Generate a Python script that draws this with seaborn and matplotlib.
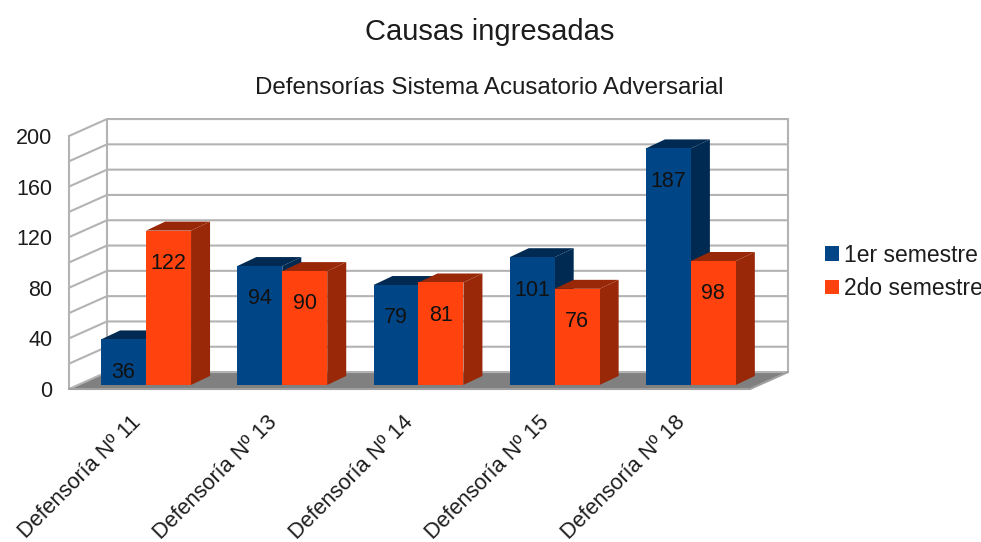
import pandas as pd
import matplotlib.pyplot as plt
from matplotlib.patches import Polygon
from matplotlib.transforms import ScaledTranslation
import seaborn as sns

# Values
categories = ['Defensoría Nº 11', 'Defensoría Nº 13', 'Defensoría Nº 14', 'Defensoría Nº 15', 'Defensoría Nº 18']
first_semester = [36, 94, 79, 101, 187]
second_semester = [122, 90, 81, 76, 98]
series_names = ['1er semestre', '2do semestre']
y_labels = [0, 40, 80, 120, 160, 200]
grid_values = [0, 20, 40, 60, 80, 100, 120, 140, 160, 180, 200]

front_colors = {'1er semestre': '#004586', '2do semestre': '#ff420e'}
side_colors = {'#004586': '#002a52', '#ff420e': '#992808'}
grid_color = '#b3b3b3'
text_color = '#1c1c1c'

# Fake 3D depth in data units
wall_dx, wall_dy = 0.279, 13.4
bar_shift_x, bar_shift_y = 0.066, 3.2
bar_dx, bar_dy = 0.1395, 7.1

sns.set_theme(style='white')
plt.rcParams['font.family'] = ['Liberation Sans', 'DejaVu Sans']

data = pd.DataFrame({
    'category': categories * 2,
    'series': [series_names[0]] * 5 + [series_names[1]] * 5,
    'value': first_semester + second_semester,
})

fig = plt.figure(figsize=(9.81, 5.42), dpi=100)
ax = fig.add_axes([69 / 981, (542 - 389) / 542, 681 / 981, 253 / 542])

sns.barplot(data=data, x='category', y='value', hue='series', palette=front_colors,
            width=0.66, gap=0, saturation=1, linewidth=0, ax=ax)

ax.set_xlim(-0.5, 4.5)
ax.set_ylim(0, 200)
ax.set_xlabel('')
ax.set_ylabel('')
sns.despine(ax=ax, left=True, bottom=True)
ax.patch.set_visible(False)

# Walls and floor
x0, x1 = -0.5, 4.5
floor = Polygon([(x0, 0), (x0 + wall_dx, wall_dy), (x1 + wall_dx, wall_dy), (x1, 0)],
                facecolor='#808080', edgecolor='none', clip_on=False, zorder=1)
ax.add_patch(floor)
for v in grid_values:
    ax.plot([x0, x0 + wall_dx, x1 + wall_dx], [v, v + wall_dy, v + wall_dy],
            color=grid_color, lw=1.5, clip_on=False, zorder=1.5, solid_joinstyle='miter')
ax.plot([x0, x0], [0, 200], color=grid_color, lw=1.5, clip_on=False, zorder=1.6)
ax.plot([x0 + wall_dx] * 2, [wall_dy, 200 + wall_dy], color=grid_color, lw=1.5, clip_on=False, zorder=1.6)
ax.plot([x1 + wall_dx] * 2, [wall_dy, 200 + wall_dy], color=grid_color, lw=1.5, clip_on=False, zorder=1.6)
ax.plot([x0, x1, x1 + wall_dx], [0, 0, wall_dy], color='#a0a0a0', lw=1.5, clip_on=False, zorder=1.7)

# Move the bars onto the floor and add top and side faces
bars = [b for c in ax.containers for b in c]
bars.sort(key=lambda b: b.get_x())
for i, bar in enumerate(bars):
    x = bar.get_x() + bar_shift_x
    w = bar.get_width()
    h = bar.get_height()
    y = bar_shift_y
    bar.set_x(x)
    bar.set_y(y)
    bar.set_clip_on(False)
    bar.set_zorder(3 + i + 0.5)
    hex_color = '#%02x%02x%02x' % tuple(int(round(c * 255)) for c in bar.get_facecolor()[:3])
    dark = side_colors[hex_color]
    side = Polygon([(x + w, y), (x + w + bar_dx, y + bar_dy), (x + w + bar_dx, y + h + bar_dy), (x + w, y + h)],
                   facecolor=dark, edgecolor='none', clip_on=False, zorder=3 + i)
    top = Polygon([(x, y + h), (x + bar_dx, y + h + bar_dy), (x + w + bar_dx, y + h + bar_dy), (x + w, y + h)],
                  facecolor=dark, edgecolor='none', clip_on=False, zorder=3 + i)
    ax.add_patch(side)
    ax.add_patch(top)
    ax.text(x + w / 2, y + h - 26, f'{h:.0f}', ha='center', va='center', fontsize=15.5,
            color='#111111', zorder=30)

ax.set_yticks(y_labels)
ax.set_yticklabels([str(v) for v in y_labels], fontsize=15.5, color=text_color)
ax.tick_params(axis='y', length=0, pad=12)
ax.tick_params(axis='x', length=0, pad=16.6)
plt.setp(ax.get_xticklabels(), rotation=45, ha='right', va='top', rotation_mode='anchor',
         fontsize=15.7, color=text_color)
label_shift = ScaledTranslation(-7 / 100, 0, fig.dpi_scale_trans)
for label in ax.get_xticklabels():
    label.set_transform(label.get_transform() + label_shift)

handles, labels = ax.get_legend_handles_labels()
ax.legend(handles, labels, loc='center left', bbox_to_anchor=(820 / 981, 1 - 272 / 542),
          bbox_transform=fig.transFigure, frameon=False, fontsize=16.5, handlelength=0.61,
          handleheight=0.61, handletextpad=0.22, labelspacing=0.45, borderpad=0.2, borderaxespad=0,
          labelcolor=text_color)

fig.text(489.5 / 981, 1 - 32 / 542, 'Causas ingresadas', ha='center', va='center', fontsize=21, color=text_color)
fig.text(489.5 / 981, 1 - 88 / 542, 'Defensorías Sistema Acusatorio Adversarial', ha='center', va='center',
         fontsize=17.4, color=text_color)

plt.savefig('out.png', dpi=100)
plt.close()
